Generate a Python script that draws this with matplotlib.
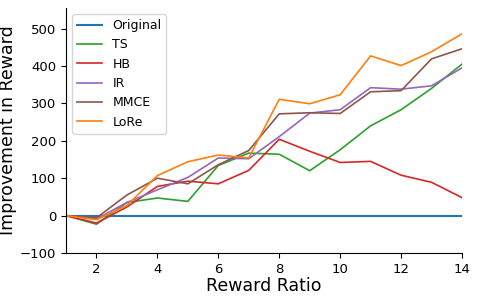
import numpy as np
import matplotlib.pyplot as plt

ratios = list(range(1, 15))
original = [0] * 14
ts = [0, -23, 35, 47, 38, 134, 167, 164, 120, 176, 240, 283, 340, 405]
hb = [0, -20, 23, 78, 92, 85, 121, 204, 172, 142, 145, 108, 89, 48]
ir = [0, -9, 35, 69, 102, 154, 152, 211, 274, 283, 342, 338, 347, 395]
mmce = [0, -6, 55, 100, 85, 136, 174, 272, 275, 273, 331, 334, 419, 446]
lore = [0, -11, 27, 107, 144, 162, 154, 311, 299, 323, 427, 401, 438, 486]

fig = plt.figure(figsize=(4.79, 2.99), dpi=100)
ax = fig.add_axes([66 / 479, 46 / 299, 396 / 479, 245 / 299])

ax.plot(ratios, original, label='Original', lw=1.5, color='C0')
ax.plot(ratios, ts, label='TS', lw=1.2, color='C2')
ax.plot(ratios, hb, label='HB', lw=1.2, color='C3')
ax.plot(ratios, ir, label='IR', lw=1.2, color='C4')
ax.plot(ratios, mmce, label='MMCE', lw=1.2, color='C5')
ax.plot(ratios, lore, label='LoRe', lw=1.2, color='C1')

ax.set_xlim(1, 14)
ax.set_ylim(-100, 555)
ax.set_xticks([2, 4, 6, 8, 10, 12, 14])
ax.set_yticks([-100, 0, 100, 200, 300, 400, 500])
ax.tick_params(labelsize=9.5)
ax.spines['top'].set_visible(False)
ax.spines['right'].set_visible(False)
ax.set_xlabel('Reward Ratio', fontsize=12.5, labelpad=1)
ax.set_ylabel('Improvement in Reward', fontsize=12.5, labelpad=2)
ax.legend(loc='upper left', fontsize=9)

fig.savefig('out.png')
